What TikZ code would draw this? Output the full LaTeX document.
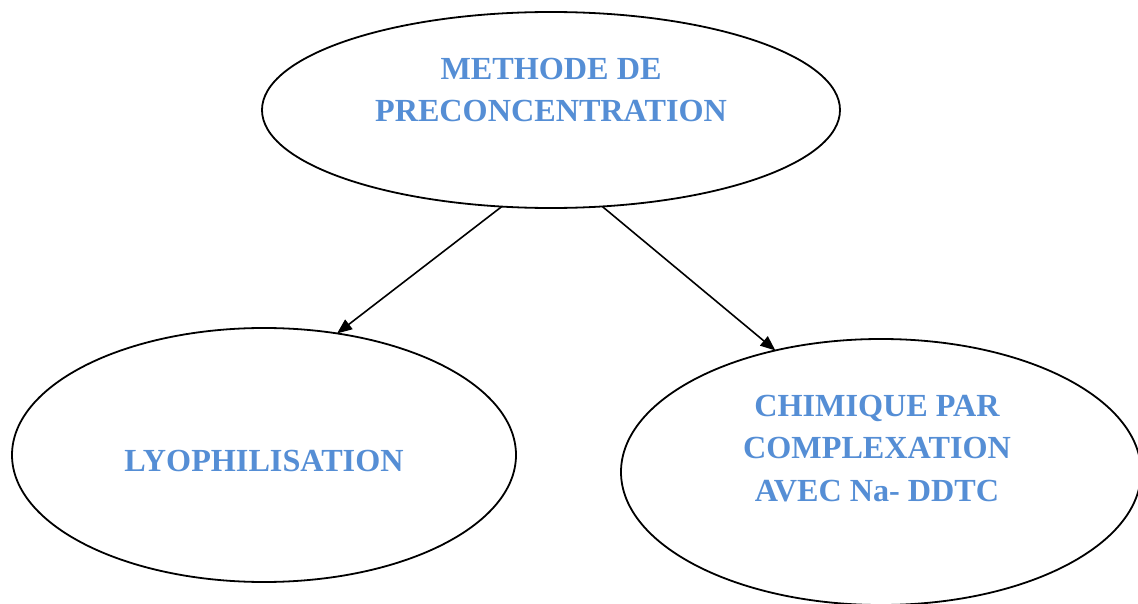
\documentclass[tikz,border=0pt]{standalone}
\usepackage{fontspec}
\setmainfont{Liberation Serif}
\usetikzlibrary{shapes.geometric,arrows.meta}
\definecolor{txtblue}{RGB}{85,142,213}
\begin{document}
\begin{tikzpicture}[x=1pt,y=-1pt,
 oval/.style={ellipse,draw,line width=1.8pt,inner sep=0pt,outer sep=0pt},
 lbl/.style={text=txtblue,font=\fontsize{32.2}{42.5}\selectfont\bfseries,align=center,inner sep=0pt},
 arr/.style={line width=1.6pt,-{Triangle[length=15pt,width=12pt]}}]
\useasboundingbox (0,0) rectangle (1138,604);
\node[oval,minimum width=578pt,minimum height=196pt] (top) at (551,110) {};
\node[oval,minimum width=504pt,minimum height=254pt] (left) at (264,455) {};
\node[oval,minimum width=520pt,minimum height=266pt] (right) at (881,472) {};
\node[lbl] (ttop) at (551,90) {METHODE DE\\PRECONCENTRATION};
\node[lbl] (tleft) at (264,461) {LYOPHILISATION};
\node[lbl] (tright) at (877,448.5) {CHIMIQUE PAR\\COMPLEXATION\\AVEC Na- DDTC};
\draw[arr] (top.243.2) -- (left.59.5);
\draw[arr] (top.298.2) -- (right.131.4);
\end{tikzpicture}
\end{document}
